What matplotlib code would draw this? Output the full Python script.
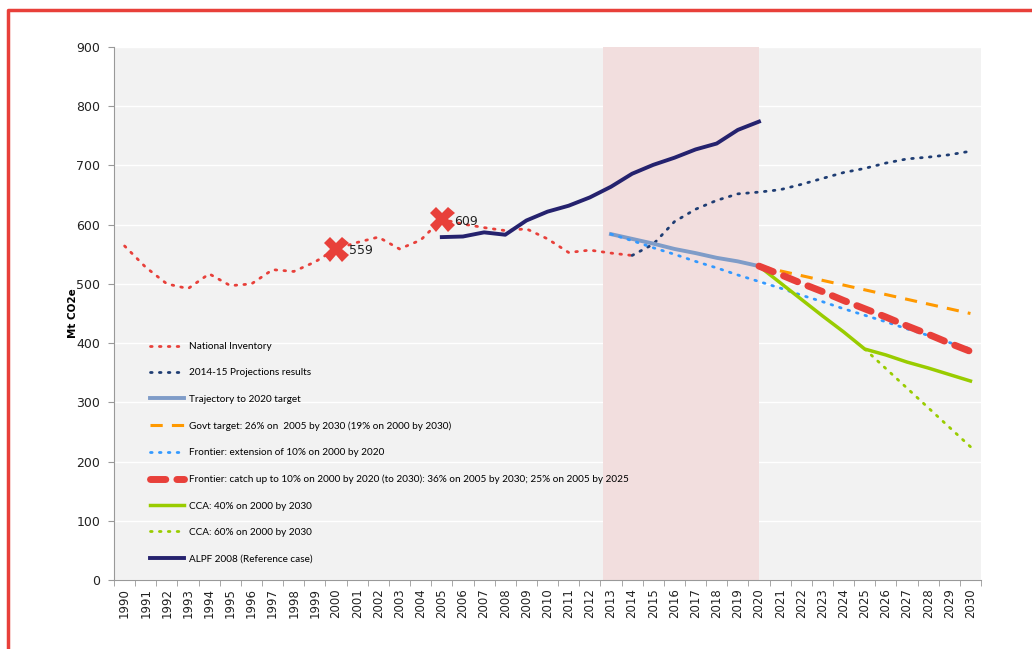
import numpy as np
import matplotlib
matplotlib.use("Agg")
import matplotlib.pyplot as plt
from matplotlib.lines import Line2D

plt.rcParams['font.family'] = ['Lato', 'DejaVu Sans']

years = list(range(1990, 2031))

# National Inventory 1990-2014
inv_years = list(range(1990, 2015))
inv_vals = [564, 528, 500, 492, 517, 497, 500, 524, 521, 537, 559, 570, 579, 559, 574,
            609, 601, 595, 590, 593, 576, 553, 557, 552, 548]

# 2014-15 Projections results 2014-2030
proj_years = list(range(2014, 2031))
proj_vals = [548, 567, 605, 626, 641, 652, 655, 659, 668, 678, 688, 695, 704, 711, 714, 718, 724]

# Trajectory to 2020 target
traj_years = list(range(2013, 2021))
traj_vals = [584, 576, 568, 559, 552, 544, 538, 530]

# Govt target
govt_years = list(range(2020, 2031))
govt_vals = [530, 522, 514, 506, 498, 490, 482, 474, 466, 458, 450]

# Frontier: extension of 10% on 2000 by 2020
ext_years = list(range(2013, 2031))
ext_vals = [584, 573, 561, 550, 538, 527, 515, 504, 493, 481, 470, 458, 447, 436, 424, 413, 401, 390]

# Frontier: catch up
catch_years = list(range(2020, 2031))
catch_vals = [530, 516, 501, 487, 472, 458, 444, 429, 415, 400, 386]

# CCA 40%
cca40_years = list(range(2020, 2031))
cca40_vals = [530, 502, 474, 446, 419, 390, 380, 368, 358, 347, 336]

# CCA 60%
cca60_years = list(range(2025, 2031))
cca60_vals = [390, 357, 324, 291, 258, 225]

# ALPF 2008 (Reference case)
alpf_years = list(range(2005, 2021))
alpf_vals = [579, 580, 587, 583, 607, 622, 632, 646, 664, 686, 701, 713, 727, 737, 760, 774]

marker_years = [2000, 2005]
marker_vals = [559, 609]

fig = plt.figure(figsize=(10.32, 6.49), dpi=100)
ax = fig.add_axes([0.1105, 0.1063, 0.8401, 0.8213])
ax.set_facecolor('#f2f2f2')

def xi(yrs):
    return [y - 1990 for y in yrs]

ax.axvspan(2012.6 - 1990, 2020 - 1990, color='#f2dede', zorder=1, lw=0)

ax.plot(xi(inv_years), inv_vals, color='#e8403a', lw=2, ls=(0, (0.6, 2.6)),
        dash_capstyle='round', label='National Inventory', zorder=3)
ax.plot(xi(proj_years), proj_vals, color='#1f3d73', lw=2, ls=(0, (0.6, 2.6)),
        dash_capstyle='round', label='2014-15 Projections results', zorder=3)
ax.plot(xi(traj_years), traj_vals, color='#7f9cc8', lw=2.8,
        label='Trajectory to 2020 target', zorder=3)
ax.plot(xi(govt_years), govt_vals, color='#ff9900', lw=2.2, ls=(0, (4, 3)),
        label='Govt target: 26% on  2005 by 2030 (19% on 2000 by 2030)', zorder=3)
ax.plot(xi(ext_years), ext_vals, color='#3399ff', lw=2, ls=(0, (0.6, 2.6)),
        dash_capstyle='round', label='Frontier: extension of 10% on 2000 by 2020', zorder=3)
ax.plot(xi(catch_years), catch_vals, color='#e8403a', lw=5, ls=(0, (2.2, 1.6)),
        dash_capstyle='round',
        label='Frontier: catch up to 10% on 2000 by 2020 (to 2030): 36% on 2005 by 2030; 25% on 2005 by 2025',
        zorder=4)
ax.plot(xi(cca40_years), cca40_vals, color='#99cc00', lw=2.5,
        label='CCA: 40% on 2000 by 2030', zorder=3)
ax.plot(xi(cca60_years), cca60_vals, color='#99cc00', lw=2, ls=(0, (0.6, 2.6)),
        dash_capstyle='round', label='CCA: 60% on 2000 by 2030', zorder=3)
ax.plot(xi(alpf_years), alpf_vals, color='#25226e', lw=2.8,
        label='ALPF 2008 (Reference case)', zorder=3)

ax.plot(xi(marker_years), marker_vals, ls='none', marker='X', markersize=18,
        color='#e8403a', markeredgewidth=0, zorder=5)
for yr, v in zip(marker_years, marker_vals):
    ax.annotate(str(v), (yr - 1990, v), xytext=(9, -4), textcoords='offset points',
                fontsize=9, color='#222222', family='DejaVu Sans', zorder=6)

ax.set_xlim(-0.5, len(years) - 0.5)
ax.set_ylim(0, 900)
ax.set_yticks(range(0, 901, 100))
ax.yaxis.grid(True, color='white', lw=1)
ax.set_axisbelow(True)

ax.set_xticks(range(len(years)))
ax.set_xticklabels([str(y) for y in years], rotation=90, fontsize=8.5, color='#222222',
                   family='DejaVu Sans')
ax.set_xticks(np.arange(-0.5, len(years), 1), minor=True)
ax.tick_params(axis='x', which='major', length=0, pad=6)
ax.tick_params(axis='x', which='minor', length=4, color='#999999')
ax.tick_params(axis='y', length=4, color='#999999', labelsize=9, labelcolor='#222222', pad=6)
for lbl in ax.get_yticklabels():
    lbl.set_family('DejaVu Sans')

for s in ['top', 'right']:
    ax.spines[s].set_visible(False)
ax.spines['left'].set_color('#999999')
ax.spines['bottom'].set_color('#999999')

ax.set_ylabel('Mt CO2e', fontsize=7.5, fontweight='bold', labelpad=-1, family='DejaVu Sans')

leg = ax.legend(loc='upper left', bbox_to_anchor=(0.037, 0.454), frameon=False,
                fontsize=7.2, handlelength=3.4, handletextpad=0.5,
                labelspacing=1.74, borderaxespad=0)

# red frame around the figure
fig.add_artist(Line2D([8 / 1032, 8 / 1032, 1.0], [0.0, 1 - 10 / 649, 1 - 10 / 649],
                      transform=fig.transFigure, color='#e8403a', lw=2.5))

fig.savefig('out.png', dpi=100)
